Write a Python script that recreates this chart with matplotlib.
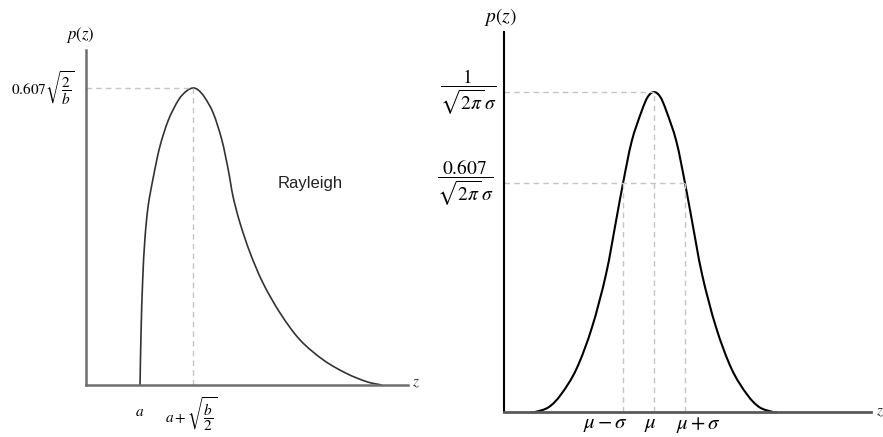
import numpy as np
import matplotlib
matplotlib.use("Agg")
from matplotlib import pyplot as plt
from matplotlib.path import Path
from matplotlib.patches import PathPatch

plt.rcParams['mathtext.fontset'] = 'stix'
plt.rcParams['font.family'] = ['Liberation Sans', 'DejaVu Sans']

# Rayleigh curve (z: a = 1, a+sqrt(b/2) = 2; p: peak = 1)
ray_z = [1.01, 1.03, 1.06, 1.10, 1.16, 1.26, 1.38, 1.54, 1.73, 1.88, 2.00,
         2.10, 2.22, 2.38, 2.54, 2.66, 2.75, 2.88, 3.07, 3.31, 3.63, 4.00, 4.44, 4.87,
         5.25, 5.53]
ray_p = [0.0, 0.185, 0.354, 0.488, 0.600, 0.701, 0.802, 0.892, 0.960, 0.990, 1.0,
         0.993, 0.968, 0.915, 0.825, 0.724, 0.634, 0.545, 0.444, 0.343, 0.242, 0.152,
         0.084, 0.039, 0.011, 0.0]
ray_a = 1.0
ray_peak = 2.0

# Gaussian curve (z in sigma units around mu; p: peak = 1)
gau_z = [-4.0, -3.84, -3.4, -3.0, -2.5, -2.0, -1.55, -1.22, -1.0, -0.72, -0.4, -0.2, 0.0,
         0.2, 0.4, 0.72, 1.0, 1.22, 1.55, 2.0, 2.5, 3.0, 3.4, 3.84, 3.97]
gau_p = [0.0, 0.0, 0.015, 0.055, 0.135, 0.265, 0.43, 0.60, 0.715, 0.846, 0.94, 0.985, 1.0,
         0.985, 0.94, 0.846, 0.715, 0.60, 0.43, 0.265, 0.135, 0.055, 0.015, 0.0, 0.0]
gau_marks = [-1.0, 0.0, 1.0]
gau_label_x = [-1.56, -0.13, 1.42]
gau_labels = [r'$\mu-\sigma$', r'$\mu$', r'$\mu+\sigma$']
gau_level = 0.715


def smooth_path(xs, ys):
    # Catmull-Rom through the traced points, drawn as cubic Bezier segments
    p = np.column_stack([xs, ys]).astype(float)
    pts = np.vstack([p[0], p, p[-1]])
    verts = [p[0]]
    codes = [Path.MOVETO]
    for i in range(1, len(pts) - 2):
        c1 = pts[i] + (pts[i + 1] - pts[i - 1]) / 6
        c2 = pts[i + 1] - (pts[i + 2] - pts[i]) / 6
        verts += [c1, c2, pts[i + 1]]
        codes += [Path.CURVE4] * 3
    return Path(verts, codes)


W, H = 883, 437
fig = plt.figure(figsize=(W / 100, H / 100), dpi=100)
dash = dict(color='#c4c4c4', lw=1.0, ls=(0, (4, 3)))

# ---- left: Rayleigh
ax1 = fig.add_axes([86 / W, 52 / H, 322 / W, 335 / H])
ax1.set_xlim(0, 6.02)
ax1.set_ylim(0, 1.128)
for s in ['top', 'right']:
    ax1.spines[s].set_visible(False)
for s in ['left', 'bottom']:
    ax1.spines[s].set_color('#6e6e6e')
    ax1.spines[s].set_linewidth(1.8)
ax1.set_xticks([])
ax1.set_yticks([])
ax1.plot([0, ray_peak], [1, 1], **dash)
ax1.plot([ray_peak, ray_peak], [0, 1], **dash)
ax1.add_patch(PathPatch(smooth_path(ray_z, ray_p), fill=False, ec='#333333', lw=1.2,
                        clip_on=False))
ax1.text(-0.11, 1.18, r'$p(z)$', fontsize=12, ha='center', va='center')
ax1.text(-0.2, 1.0, r'$\mathrm{0.607}\sqrt{\dfrac{2}{b}}$', fontsize=11,
         ha='right', va='center')
ax1.text(4.19, 0.68, 'Rayleigh', fontsize=12, ha='center', va='center', color='#222222')
ax1.text(6.17, 0.007, r'$z$', fontsize=11, ha='center', va='center', color='#333333')
ax1.text(ray_a, -0.09, r'$a$', fontsize=11, ha='center', va='center')
ax1.text(1.97, -0.10, r'$a+\sqrt{\dfrac{b}{2}}$', fontsize=11, ha='center', va='center')

# ---- right: Gaussian
ax2 = fig.add_axes([504 / W, 25 / H, 367 / W, 380 / H])
ax2.set_xlim(-4.84, 7.0)
ax2.set_ylim(0, 1.1875)
for s in ['top', 'right']:
    ax2.spines[s].set_visible(False)
ax2.spines['left'].set_color('black')
ax2.spines['left'].set_linewidth(1.5)
ax2.spines['bottom'].set_color('#5a5a5a')
ax2.spines['bottom'].set_linewidth(2.0)
ax2.set_xticks([])
ax2.set_yticks([])
ax2.plot([-4.84, 0], [1, 1], **dash)
ax2.plot([-4.84, 1], [gau_level, gau_level], **dash)
ax2.plot([0, 0], [0, 1], **dash)
ax2.plot([-1, -1], [0, gau_level], **dash)
ax2.plot([1, 1], [0, gau_level], **dash)
ax2.add_patch(PathPatch(smooth_path(gau_z, gau_p), fill=False, ec='black', lw=1.5,
                        clip_on=False))
ax2.text(-4.97, 1.234, r'$p(z)$', fontsize=14, ha='center', va='center', clip_on=False)
ax2.text(-5.06, 1.0, r'$\dfrac{1}{\sqrt{2\pi}\,\sigma}$', fontsize=14, ha='right', va='center')
ax2.text(-5.16, gau_level, r'$\dfrac{0.607}{\sqrt{2\pi}\,\sigma}$', fontsize=14,
         ha='right', va='center')
for x, lab in zip(gau_label_x, gau_labels):
    ax2.text(x, -0.04, lab, fontsize=15, ha='center', va='center')
ax2.text(7.29, 0.0, r'$z$', fontsize=11, ha='center', va='center', color='#333333')

fig.savefig('out.png', dpi=100)
